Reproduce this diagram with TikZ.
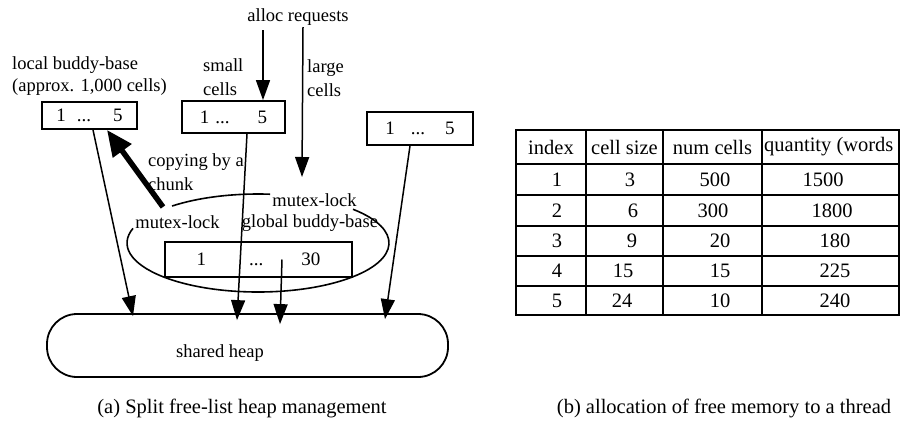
\documentclass[tikz,border=0pt]{standalone}
\usepackage{fontspec}
\setmainfont{Liberation Serif}
\usetikzlibrary{arrows.meta,calc}

\begin{document}
\begin{tikzpicture}[x=1pt,y=-1pt,
  lbl/.style={font=\fontsize{18.5}{23.5}\selectfont, inner sep=0pt},
  cellbox/.style={draw, line width=1.8pt, inner sep=0pt, font=\fontsize{19}{20}\selectfont},
  conn/.style={line width=1.5pt, -{Triangle[length=20pt,width=14pt]}},
  bigconn/.style={line width=5.5pt, -{Triangle[length=26pt,width=22pt]}},
  rim/.style={line width=1.6pt},
  tbl/.style={line width=1.8pt},
  tcell/.style={font=\fontsize{20.5}{22}\selectfont, inner sep=0pt},
  capt/.style={font=\fontsize{20.5}{22}\selectfont, inner sep=0pt}
]
\useasboundingbox (0,0) rectangle (901,424);

% buddy-base boxes
\node[cellbox, minimum width=95pt, minimum height=27pt] (lb) at (89.5,115.5)
  {1\hspace{11pt}...\hspace{22pt}5\hspace{7pt}};
\node[cellbox, minimum width=103pt, minimum height=32pt] (mb) at (233.5,117)
  {1\hspace{6pt}...\hspace{28pt}5\hspace{9pt}};
\node[cellbox, minimum width=106pt, minimum height=33pt] (rb) at (420,128.5)
  {1\hspace{16pt}...\hspace{20pt}5\hspace{16pt}};
\node[cellbox, minimum width=187pt, minimum height=35pt] (gb) at (258.5,259.5)
  {1\hspace{43pt}...\hspace{38pt}30\hspace{12.5pt}};

% shared heap
\node[draw, line width=1.8pt, rounded corners=30pt, minimum width=401pt,
      minimum height=63pt] (heap) at (247.5,345.5) {};
\node[lbl] (heaptxt) at (220,353) {shared heap};

% global buddy-base outline, broken where the lock labels sit
\coordinate (ec) at (258,243);
\draw[rim] ($(ec)+(131:131pt and 49pt)$)
  arc[start angle=131, end angle=84.7, x radius=131pt, y radius=49pt];
\draw[rim] ($(ec)+(43.5:131pt and 49pt)$)
  arc[start angle=43.5, end angle=-197.4, x radius=131pt, y radius=49pt];

% labels
\node[lbl] (alloc) at (298,17) {alloc requests};
\node[lbl, anchor=west] (lbb) at (12,65) {local buddy-base};
\node[lbl, anchor=west] (approx) at (12,87) {(approx. 1,000 cells)};
\node[lbl, anchor=west, align=left] (small) at (203,77) {small\\cells};
\node[lbl, anchor=west, align=left] (large) at (307,78) {large\\cells};
\node[lbl, anchor=west, align=left] (copy) at (148,172) {copying by a\\chunk};
\node[lbl] (lockl) at (177.5,222) {mutex-lock};
\node[lbl] (lockr) at (314.5,200) {mutex-lock};
\node[lbl] (gbb) at (310,223) {global buddy-base};

% request arrows
\coordinate (sa) at (263,30);
\coordinate (la1) at (303,27);
\coordinate (la2) at (302,177);
\draw[conn] (sa) -- (mb.north -| sa);
\draw[conn] (la1) -- (la2);

% chunk copy from the global base to a local base
\coordinate (ct) at (163,207);
\draw[bigconn] (ct) -- ([xshift=17.5pt]lb.south);

% flows into the shared heap
\draw[conn] ([xshift=3.5pt]lb.south) -- ([xshift=-114.5pt,yshift=-3pt]heap.north);
\draw[conn] ([xshift=13.5pt]mb.south) -- ([xshift=-10.5pt,yshift=-7pt]heap.north);
\draw[conn] ([xshift=23.5pt]gb.center) -- ([xshift=32.5pt,yshift=-11pt]heap.north);
\draw[conn] ([xshift=-10pt]rb.south) -- ([xshift=137.5pt,yshift=-6pt]heap.north);

% table of size classes
\draw[tbl] (516,130) rectangle (899,315);
\foreach \x in {586,663,762} \draw[tbl] (\x,130) -- (\x,315);
\foreach \y in {164,195,226,256,286} \draw[tbl] (516,\y) -- (899,\y);

\node[tcell] (h1) at (551,147) {index};
\node[tcell] (h2) at (624.5,147) {cell size};
\node[tcell] (h3) at (712.5,147) {num cells};
\node[tcell, anchor=west] (h4) at (764,147) {quantity (words};

\foreach \r/\yy/\va/\vb/\bx/\vc/\cx/\vd/\dx in {
  1/180/1/3/630/500/715/1500/823,
  2/211/2/6/633/300/713/1800/832,
  3/241/3/9/632/20/720/180/835,
  4/271/4/15/623/15/720/225/835,
  5/301/5/24/622/10/720/240/835}
{
  \node[tcell] (r\r a) at (557,\yy) {\va};
  \node[tcell] (r\r b) at (\bx,\yy) {\vb};
  \node[tcell] (r\r c) at (\cx,\yy) {\vc};
  \node[tcell] (r\r d) at (\dx,\yy) {\vd};
}

% captions
\node[capt] (capa) at (242,408) {(a) Split free-list heap management};
\node[capt] (capb) at (724,408) {(b) allocation of free memory to a thread};
\end{tikzpicture}
\end{document}
